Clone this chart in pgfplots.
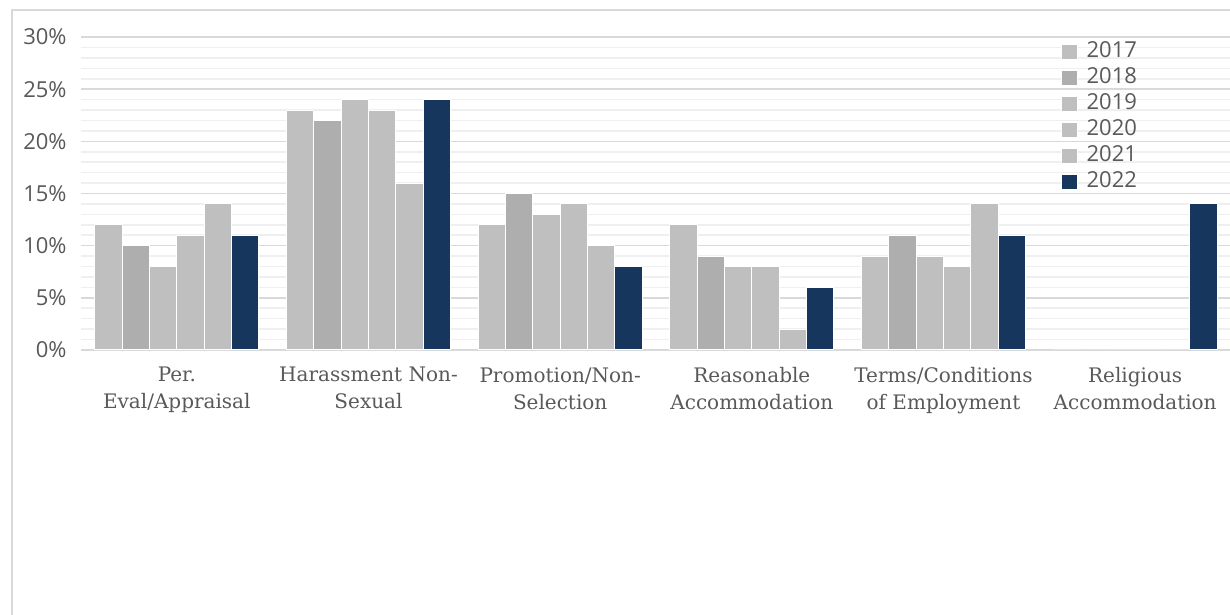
\documentclass[border=0pt]{standalone}
\usepackage{pgfplots}
\pgfplotsset{compat=1.18}
\usepackage{fontspec}
\setmainfont{Open Sans}
\newfontfamily\slab{DejaVu Serif}
\definecolor{lg}{HTML}{BFBFBF}
\definecolor{dg}{HTML}{AEAEAE}
\definecolor{navy}{HTML}{17365D}
\definecolor{tick}{HTML}{595959}
\definecolor{gmaj}{HTML}{D9D9D9}
\definecolor{gmin}{HTML}{EFEFEF}
\pgfplotsset{
  sq/.style={legend image code/.code={\fill[##1] (0pt,-3.8pt) rectangle (7.6pt,3.8pt);}}
}
\begin{document}
\begin{tikzpicture}
\useasboundingbox (0,0) rectangle (615pt,307.5pt);
\clip (0,0) rectangle (615pt,307.5pt);
\fill[white] (0,0) rectangle (615pt,307.5pt);
\draw[gmaj, line width=1.2pt] (6pt,0) -- (6pt,302.5pt) -- (620pt,302.5pt);
\begin{axis}[
  at={(40.5pt,132.5pt)}, anchor=south west,
  scale only axis, width=575pt, height=156.5pt,
  ybar=0pt, bar width=13.65pt,
  xmin=-0.5, xmax=5.5, ymin=0, ymax=30,
  xtick={0,1,2,3,4,5},
  xticklabels={{Per.\\Eval/Appraisal},{Harassment Non-\\Sexual},{Promotion/Non-\\Selection},{Reasonable\\Accommodation},{Terms/Conditions\\of Employment},{Religious\\Accommodation}},
  xticklabel style={align=center, font=\slab\fontsize{10}{13.5}\selectfont, color=tick, inner sep=0pt, yshift=-8.5pt},
  ytick={0,5,...,30},
  yticklabel={\pgfmathprintnumber{\tick}\%},
  yticklabel style={font=\fontsize{11}{13}\selectfont, color=tick, inner sep=0pt, xshift=-7pt},
  /pgf/number format/assume math mode=true,
  minor y tick num=4,
  major tick length=0pt, minor tick length=0pt,
  ymajorgrids, yminorgrids,
  major grid style={gmaj, line width=0.8pt},
  minor grid style={gmin, line width=0.8pt},
  axis line style={draw=none},
  legend style={at={(rel axis cs:0.847,1.003)}, anchor=north west, draw=none, fill=none,
    font=\fontsize{11}{13}\selectfont, text=tick,
    row sep=1.2pt,
    nodes={inner sep=0pt, text height=8.5pt, text depth=3.3pt}},
  legend cell align=left,
]
\addplot[fill=lg, draw=white, line width=0.5pt, sq] coordinates {(0,12) (1,23) (2,12) (3,12) (4,9) (5,0)};
\addplot[fill=dg, draw=white, line width=0.5pt, sq] coordinates {(0,10) (1,22) (2,15) (3,9) (4,11) (5,0)};
\addplot[fill=lg, draw=white, line width=0.5pt, sq] coordinates {(0,8) (1,24) (2,13) (3,8) (4,9) (5,0)};
\addplot[fill=lg, draw=white, line width=0.5pt, sq] coordinates {(0,11) (1,23) (2,14) (3,8) (4,8) (5,0)};
\addplot[fill=lg, draw=white, line width=0.5pt, sq] coordinates {(0,14) (1,16) (2,10) (3,2) (4,14) (5,0)};
\addplot[fill=navy, draw=white, line width=0.5pt, sq] coordinates {(0,11) (1,24) (2,8) (3,6) (4,11) (5,14)};
\legend{\hspace*{4.5pt}2017,\hspace*{4.5pt}2018,\hspace*{4.5pt}2019,\hspace*{4.5pt}2020,\hspace*{4.5pt}2021,\hspace*{4.5pt}2022}
\end{axis}
\end{tikzpicture}
\end{document}
